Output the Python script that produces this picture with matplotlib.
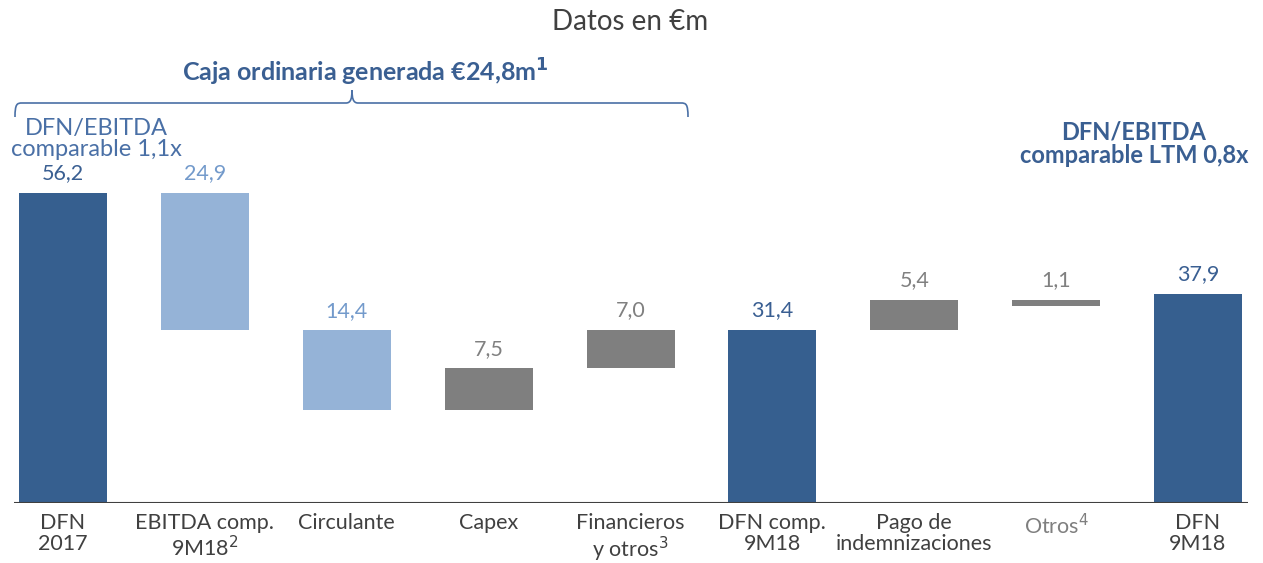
import matplotlib
matplotlib.use("Agg")
import matplotlib.pyplot as plt
from matplotlib.path import Path
from matplotlib.patches import PathPatch

plt.rcParams['font.family'] = ['Lato', 'DejaVu Sans']

categories = ["DFN\n2017", "EBITDA comp.\n9M18$^{2}$", "Circulante", "Capex",
              "Financieros\ny otros$^{3}$", "DFN comp.\n9M18", "Pago de\nindemnizaciones",
              "Otros$^{4}$", "DFN\n9M18"]
values = [56.2, 24.9, 14.4, 7.5, 7.0, 31.4, 5.4, 1.1, 37.9]
bottoms = [0.0, 31.3, 16.9, 16.9, 24.4, 0.0, 31.4, 35.7, 0.0]
labels = ["56,2", "24,9", "14,4", "7,5", "7,0", "31,4", "5,4", "1,1", "37,9"]
kinds = ["total", "light", "light", "gray", "gray", "total", "gray", "gray", "total"]

DARK = "#365F8F"
LIGHT = "#95B3D7"
GRAY = "#7F7F7F"
bar_colors = {"total": DARK, "light": LIGHT, "gray": GRAY}
label_colors = {"total": "#3A5F92", "light": "#739ACB", "gray": "#808080"}
TXT = "#404040"

fig = plt.figure(figsize=(12.63, 5.63), dpi=100)
W, H = 1263, 563
ax = fig.add_axes([14 / W, 60 / H, 1234 / W, 503 / H])
# x=0 at px 63, x=8 at px 1198
ppu = (1198 - 63) / 8
ax.set_xlim(-(63 - 14) / ppu, 8 + (1248 - 1198) / ppu)
ax.set_ylim(0, 91.2)
ax.axis("off")

x = list(range(len(values)))
ax.bar(x, values, bottom=bottoms, width=88 / ppu,
       color=[bar_colors[k] for k in kinds], zorder=2)
ax.axhline(0, color="#404040", lw=1.5, zorder=3)

for xi, v, b, lab, k in zip(x, values, bottoms, labels, kinds):
    ax.annotate(lab, (xi, v + b), xytext=(0, 7), textcoords="offset points",
                ha="center", va="bottom", fontsize=15.5, color=label_colors[k])

for xi, cat, k in zip(x, categories, kinds):
    col = GRAY if cat.startswith("Otros") else TXT
    ax.annotate(cat, (xi, 0), xytext=(0, -7), textcoords="offset points",
                ha="center", va="top", fontsize=15.5, color=col, linespacing=1.1)

# Figure-level texts (pixel coords from top-left)
def ft(px, py, s, **kw):
    fig.text(px / W, 1 - py / H, s, **kw)

ft(630, 22, "Datos en €m", ha="center", va="center", fontsize=20, color=TXT)
ft(365, 72, "Caja ordinaria generada €24,8m$^{\\mathbf{1}}$", ha="center", va="center",
   fontsize=18, color="#3A5F92", fontweight="bold")
ft(96, 139, "DFN/EBITDA\ncomparable 1,1x", ha="center", va="center", fontsize=17,
   color="#4A70A6", linespacing=1.0)
ft(1134, 144, "DFN/EBITDA\ncomparable LTM 0,8x", ha="center", va="center", fontsize=17,
   color="#3A5F92", fontweight="bold", linespacing=1.05)

# Brace
def fx(px):
    return px / W
def fy(py):
    return 1 - py / H

codes = [Path.MOVETO, Path.CURVE4, Path.CURVE4, Path.CURVE4,
         Path.LINETO, Path.CURVE4, Path.CURVE4, Path.CURVE4]
verts = [(fx(15), fy(117)), (fx(15), fy(104)), (fx(17), fy(103)), (fx(22), fy(103)),
         (fx(346), fy(103)), (fx(351), fy(103)), (fx(352), fy(98)), (fx(352), fy(90))]
verts2 = [(fx(688), fy(117)), (fx(688), fy(104)), (fx(686), fy(103)), (fx(681), fy(103)),
          (fx(358), fy(103)), (fx(353), fy(103)), (fx(352), fy(98)), (fx(352), fy(90))]
for vv in (verts, verts2):
    fig.patches.append(PathPatch(Path(vv, codes), transform=fig.transFigure,
                                 fill=False, edgecolor="#4A70A6", lw=1.2))

fig.savefig("out.png", dpi=100)
